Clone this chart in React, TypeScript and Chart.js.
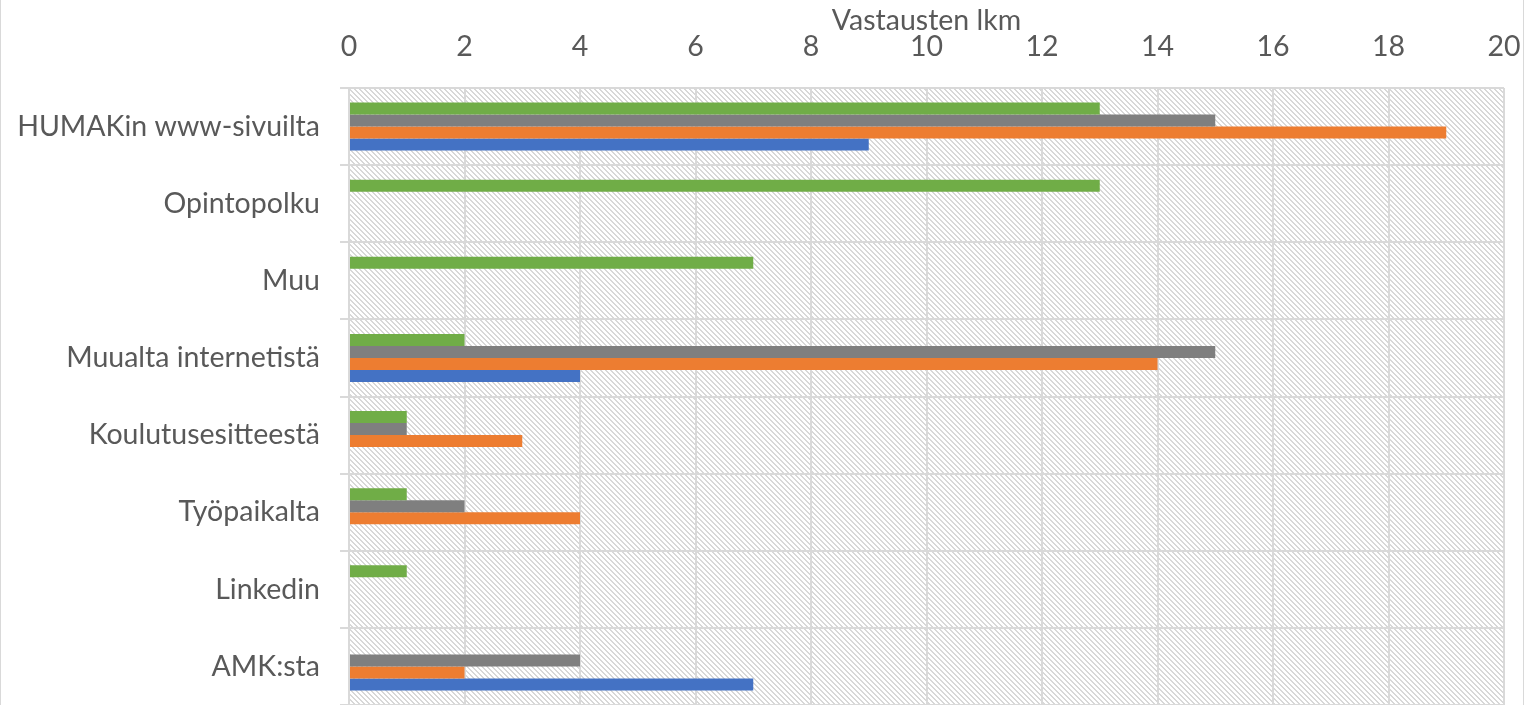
import React, { useEffect, useRef } from "react";
import { Chart, registerables } from "chart.js";

Chart.register(...registerables);

const categories = [
  "HUMAKin www-sivuilta",
  "Opintopolku",
  "Muu",
  "Muualta internetistä",
  "Koulutusesitteestä",
  "Työpaikalta",
  "Linkedin",
  "AMK:sta",
];

const seriesGreen = [13, 13, 7, 2, 1, 1, 1, 0];
const seriesGray = [15, 0, 0, 15, 1, 2, 0, 4];
const seriesOrange = [19, 0, 0, 14, 3, 4, 0, 2];
const seriesBlue = [9, 0, 0, 4, 0, 0, 0, 7];

const xTitle = "Vastausten lkm";
const xMin = 0;
const xMax = 20;
const xStep = 2;

const FONT = "Lato, 'Open Sans', sans-serif";
const TEXT = "#595959";
const GRID = "#d9d9d9";
const FS = 28.5;

function makePattern(ctx: CanvasRenderingContext2D) {
  const c = document.createElement("canvas");
  const n = 5;
  c.width = n;
  c.height = n;
  const g = c.getContext("2d")!;
  g.fillStyle = "#ffffff";
  g.fillRect(0, 0, n, n);
  g.fillStyle = "#d8d8d8";
  for (let y = 0; y < n; y++) {
    for (let x = 0; x < n; x++) {
      const d = (((x - y) % n) + n) % n;
      if (d === 0 || d === 1) g.fillRect(x, y, 1, 1);
    }
  }
  return ctx.createPattern(c, "repeat");
}

const hatchPlugin = {
  id: "hatch",
  beforeDraw(chart: any) {
    const { ctx, chartArea } = chart;
    ctx.save();
    ctx.fillStyle = "#ffffff";
    ctx.fillRect(0, 0, chart.width, chart.height);
    const p = makePattern(ctx);
    if (p) {
      ctx.fillStyle = p;
      ctx.fillRect(chartArea.left, chartArea.top, chartArea.right - chartArea.left, chartArea.bottom - chartArea.top);
    }
    ctx.strokeStyle = "#d9d9d9";
    ctx.lineWidth = 1;
    ctx.strokeRect(0.5, -1, chart.width - 1, chart.height + 2);
    ctx.restore();
  },
};

export default function App() {
  const ref = useRef<HTMLCanvasElement>(null);
  useEffect(() => {
    if (!ref.current) return;
    const chart = new Chart(ref.current, {
      type: "bar",
      data: {
        labels: categories,
        datasets: [
          { label: "A", data: seriesGreen, backgroundColor: "#70AD47" },
          { label: "B", data: seriesGray, backgroundColor: "#7F7F7F" },
          { label: "C", data: seriesOrange, backgroundColor: "#ED7D31" },
          { label: "D", data: seriesBlue, backgroundColor: "#4472C4" },
        ],
      },
      options: {
        indexAxis: "y",
        responsive: false,
        animation: false,
        maintainAspectRatio: false,
        layout: { padding: { left: 0, right: 20, top: 0, bottom: 0 } },
        datasets: {
          bar: { barPercentage: 1, categoryPercentage: 0.623, borderWidth: 0 },
        },
        plugins: {
          legend: { display: false },
          tooltip: { enabled: false },
        },
        scales: {
          x: {
            position: "top",
            min: xMin,
            max: xMax,
            ticks: {
              stepSize: xStep,
              color: TEXT,
              font: { family: FONT, size: FS },
              padding: 24,
            },
            grid: { color: GRID, lineWidth: 2, drawTicks: false },
            border: { display: false },
            title: {
              display: true,
              text: xTitle,
              color: TEXT,
              font: { family: FONT, size: FS },
              padding: { top: 4, bottom: 0 },
            },
            afterFit(scale: any) {
              scale.height = 88;
              scale.paddingLeft = 0;
              scale.paddingRight = 0;
            },
          },
          y: {
            ticks: {
              color: TEXT,
              font: { family: FONT, size: FS },
              padding: 20,
            },
            grid: { color: GRID, lineWidth: 2, drawTicks: true, tickLength: 9 },
            border: { display: true, color: GRID, width: 2 },
            afterFit(scale: any) {
              scale.width = 349;
              scale.paddingTop = 0;
              scale.paddingBottom = 0;
            },
          },
        },
      },
      plugins: [hatchPlugin],
    });
    return () => chart.destroy();
  }, []);
  return (
    <div style={{ position: "absolute", left: 0, top: 0, width: 1524, height: 705 }}>
      <canvas ref={ref} width={1524} height={705} />
    </div>
  );
}
